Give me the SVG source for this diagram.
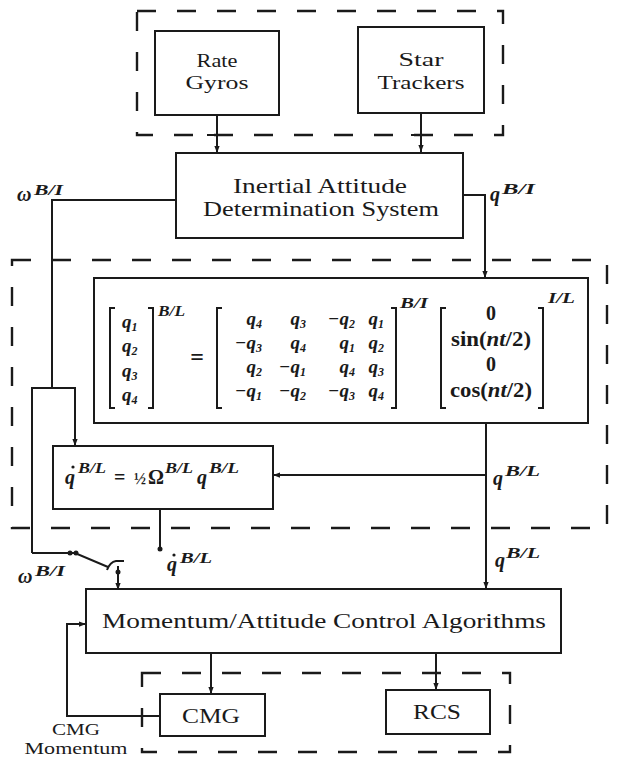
<svg xmlns="http://www.w3.org/2000/svg" width="627" height="759" viewBox="0 0 627 759">
<defs>
<style>
.box{fill:none;stroke:#1a1a1a;stroke-width:2}
.dash{fill:none;stroke:#1a1a1a;stroke-width:2.4;stroke-dasharray:19 21}
.ln{fill:none;stroke:#1a1a1a;stroke-width:2}
.t{font-family:"Liberation Serif",serif;fill:#1a1a1a}
.m{font-family:"Liberation Serif",serif;font-style:italic;font-weight:bold;fill:#1a1a1a}
.u{font-family:"Liberation Serif",serif;font-weight:bold;fill:#1a1a1a}
.sub{font-size:12px}
.eq{font-size:19px}
.sup{font-size:14px}
.dot{fill:#1a1a1a}
</style>
<marker id="ah" viewBox="0 0 8 8" refX="8" refY="4" markerWidth="7" markerHeight="7" orient="auto" markerUnits="userSpaceOnUse">
<path d="M0,1 L8,4 L0,7 z" fill="#1a1a1a"/>
</marker>
</defs>
<rect width="627" height="759" fill="#fff"/>

<g id="frames">
<rect class="dash" x="137" y="11" width="366" height="124"/>
<rect class="dash" x="12" y="260" width="595" height="268"/>
<rect class="dash" x="142" y="673" width="368" height="79"/>
</g>

<g id="connectors">
<line class="ln" x1="217" y1="115" x2="217" y2="153" marker-end="url(#ah)"/>
<line class="ln" x1="207" y1="135" x2="227" y2="135"/>
<line class="ln" x1="421" y1="113" x2="421" y2="152" marker-end="url(#ah)"/>
<line class="ln" x1="411" y1="135" x2="431" y2="135"/>
<polyline class="ln" points="176,200 52,200 52,388"/>
<polyline class="ln" points="32,553 32,388 75,388 75,446" marker-end="url(#ah)"/>
<polyline class="ln" points="32,553 75,553 108,567"/>
<path class="ln" d="M107,570 Q110,562 116,561 L124,561"/>
<line class="ln" x1="118" y1="566" x2="118" y2="590" marker-end="url(#ah)"/>
<circle class="dot" cx="70" cy="553" r="2.5"/>
<circle class="dot" cx="76" cy="553" r="2.5"/>
<circle class="dot" cx="118" cy="572" r="2.5"/>
<polyline class="ln" points="463,195 485,195 485,278" marker-end="url(#ah)"/>
<line class="ln" x1="486" y1="423" x2="486" y2="589" marker-end="url(#ah)"/>
<line class="ln" x1="486" y1="475" x2="273" y2="475" marker-end="url(#ah)"/>
<line class="ln" x1="160" y1="509" x2="160" y2="548"/>
<circle class="dot" cx="160" cy="549" r="2.5"/>
<line class="ln" x1="211" y1="653" x2="211" y2="694" marker-end="url(#ah)"/>
<line class="ln" x1="436" y1="653" x2="436" y2="690" marker-end="url(#ah)"/>
<polyline class="ln" points="160,716 67,716 67,624 86,624" marker-end="url(#ah)"/>
<line class="ln" x1="142" y1="708" x2="142" y2="725"/>
</g>

<g id="rate-gyros">
<rect class="box" x="155" y="31" width="124" height="84"/>
<text class="t" x="217" y="67" font-size="19" text-anchor="middle" textLength="41" lengthAdjust="spacingAndGlyphs">Rate</text>
<text class="t" x="217" y="89" font-size="19" text-anchor="middle" textLength="63" lengthAdjust="spacingAndGlyphs">Gyros</text>
</g>

<g id="star-trackers">
<rect class="box" x="358" y="27" width="126" height="86"/>
<text class="t" x="421" y="66" font-size="19" text-anchor="middle" textLength="45" lengthAdjust="spacingAndGlyphs">Star</text>
<text class="t" x="421" y="89" font-size="19" text-anchor="middle" textLength="87" lengthAdjust="spacingAndGlyphs">Trackers</text>
</g>

<g id="iads">
<rect class="box" x="176" y="153" width="287" height="85"/>
<text class="t" x="320" y="193" font-size="22" text-anchor="middle" textLength="174" lengthAdjust="spacingAndGlyphs">Inertial Attitude</text>
<text class="t" x="321" y="216" font-size="22" text-anchor="middle" textLength="236" lengthAdjust="spacingAndGlyphs">Determination System</text>
</g>

<g id="labels-top">
<text class="m" x="17" y="201" font-size="20">ω</text>
<text class="m sup" x="34" y="195" textLength="29" lengthAdjust="spacingAndGlyphs">B/I</text>
<text class="m" x="490" y="201" font-size="20">q</text>
<text class="m sup" x="502" y="194" textLength="33" lengthAdjust="spacingAndGlyphs">B/I</text>
</g>

<g id="rotation-equation">
<rect class="box" x="94" y="278" width="494" height="145"/>
<path class="ln" d="M115,308 H110 V408 H115 M148,308 H153 V408 H148"/>
<path class="ln" d="M222,308 H217 V408 H222 M391,308 H396 V408 H391"/>
<path class="ln" d="M446,308 H441 V408 H446 M538,308 H543 V408 H538"/>
<text class="m eq" x="122" y="328">q<tspan class="sub" dy="3">1</tspan></text>
<text class="m eq" x="122" y="352">q<tspan class="sub" dy="3">2</tspan></text>
<text class="m eq" x="122" y="377">q<tspan class="sub" dy="3">3</tspan></text>
<text class="m eq" x="122" y="401">q<tspan class="sub" dy="3">4</tspan></text>
<text class="m sup" x="158" y="316" textLength="27" lengthAdjust="spacingAndGlyphs">B/L</text>
<text class="u" x="197" y="365" font-size="24" text-anchor="middle">=</text>
<text class="m eq" x="262" y="325" text-anchor="end">q<tspan class="sub" dy="3">4</tspan></text>
<text class="m eq" x="262" y="349" text-anchor="end">−q<tspan class="sub" dy="3">3</tspan></text>
<text class="m eq" x="262" y="373" text-anchor="end">q<tspan class="sub" dy="3">2</tspan></text>
<text class="m eq" x="262" y="397" text-anchor="end">−q<tspan class="sub" dy="3">1</tspan></text>
<text class="m eq" x="306" y="325" text-anchor="end">q<tspan class="sub" dy="3">3</tspan></text>
<text class="m eq" x="306" y="349" text-anchor="end">q<tspan class="sub" dy="3">4</tspan></text>
<text class="m eq" x="306" y="373" text-anchor="end">−q<tspan class="sub" dy="3">1</tspan></text>
<text class="m eq" x="306" y="397" text-anchor="end">−q<tspan class="sub" dy="3">2</tspan></text>
<text class="m eq" x="355" y="325" text-anchor="end">−q<tspan class="sub" dy="3">2</tspan></text>
<text class="m eq" x="355" y="349" text-anchor="end">q<tspan class="sub" dy="3">1</tspan></text>
<text class="m eq" x="355" y="373" text-anchor="end">q<tspan class="sub" dy="3">4</tspan></text>
<text class="m eq" x="355" y="397" text-anchor="end">−q<tspan class="sub" dy="3">3</tspan></text>
<text class="m eq" x="384" y="325" text-anchor="end">q<tspan class="sub" dy="3">1</tspan></text>
<text class="m eq" x="384" y="349" text-anchor="end">q<tspan class="sub" dy="3">2</tspan></text>
<text class="m eq" x="384" y="373" text-anchor="end">q<tspan class="sub" dy="3">3</tspan></text>
<text class="m eq" x="384" y="397" text-anchor="end">q<tspan class="sub" dy="3">4</tspan></text>
<text class="m sup" x="400" y="308" textLength="28" lengthAdjust="spacingAndGlyphs">B/I</text>
<text class="u" x="491" y="320" font-size="20" text-anchor="middle">0</text>
<text class="u" x="491" y="346" font-size="20" text-anchor="middle" textLength="80" lengthAdjust="spacingAndGlyphs">sin(<tspan class="m">nt</tspan>/2)</text>
<text class="u" x="491" y="371" font-size="20" text-anchor="middle">0</text>
<text class="u" x="491" y="397" font-size="20" text-anchor="middle" textLength="82" lengthAdjust="spacingAndGlyphs">cos(<tspan class="m">nt</tspan>/2)</text>
<text class="m sup" x="548" y="303" textLength="27" lengthAdjust="spacingAndGlyphs">I/L</text>
</g>

<g id="qdot-equation">
<rect class="box" x="53" y="446" width="220" height="63"/>
<text class="m" x="65" y="484" font-size="20">q</text>
<circle class="dot" cx="73" cy="467" r="1.6"/>
<text class="m sup" x="78" y="473" textLength="28" lengthAdjust="spacingAndGlyphs">B/L</text>
<text class="u" x="114" y="484" font-size="20">=</text>
<text class="u" x="134" y="484" font-size="16">½</text>
<text class="u" x="148" y="484" font-size="20">Ω</text>
<text class="m sup" x="165" y="473" textLength="28" lengthAdjust="spacingAndGlyphs">B/L</text>
<text class="m" x="197" y="484" font-size="20">q</text>
<text class="m sup" x="209" y="473" textLength="30" lengthAdjust="spacingAndGlyphs">B/L</text>
</g>

<g id="labels-mid">
<text class="m" x="493" y="485" font-size="20">q</text>
<text class="m sup" x="505" y="476" textLength="35" lengthAdjust="spacingAndGlyphs">B/L</text>
<text class="m" x="495" y="567" font-size="20">q</text>
<text class="m sup" x="506" y="558" textLength="34" lengthAdjust="spacingAndGlyphs">B/L</text>
<text class="m" x="167" y="571" font-size="20">q</text>
<circle class="dot" cx="174" cy="555" r="1.6"/>
<text class="m sup" x="180" y="563" textLength="32" lengthAdjust="spacingAndGlyphs">B/L</text>
<text class="m" x="18" y="583" font-size="20">ω</text>
<text class="m sup" x="35" y="576" textLength="30" lengthAdjust="spacingAndGlyphs">B/I</text>
</g>

<g id="mca">
<rect class="box" x="86" y="589" width="475" height="64"/>
<text class="t" x="324" y="628" font-size="21" text-anchor="middle" textLength="444" lengthAdjust="spacingAndGlyphs">Momentum/Attitude Control Algorithms</text>
</g>

<g id="cmg">
<rect class="box" x="160" y="694" width="105" height="42"/>
<text class="t" x="211" y="723" font-size="22" text-anchor="middle" textLength="58" lengthAdjust="spacingAndGlyphs">CMG</text>
</g>

<g id="rcs">
<rect class="box" x="386" y="690" width="104" height="44"/>
<text class="t" x="437" y="719" font-size="22" text-anchor="middle" textLength="48" lengthAdjust="spacingAndGlyphs">RCS</text>
</g>

<g id="labels-bottom">
<text class="t" x="76" y="735" font-size="17" text-anchor="middle" textLength="48" lengthAdjust="spacingAndGlyphs">CMG</text>
<text class="t" x="76" y="754" font-size="17" text-anchor="middle" textLength="103" lengthAdjust="spacingAndGlyphs">Momentum</text>
</g>
</svg>
